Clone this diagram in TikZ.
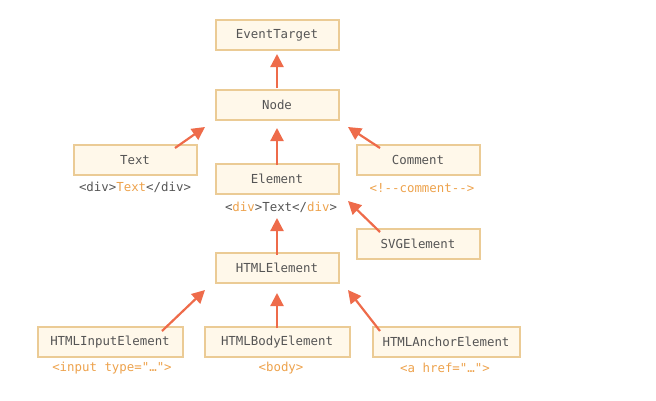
\documentclass[tikz,border=0pt]{standalone}
\usepackage{fontspec}
\setmonofont{DejaVu Sans Mono}
\usetikzlibrary{arrows.meta}
\definecolor{boxfill}{HTML}{FFF8EA}
\definecolor{boxline}{HTML}{EBCB95}
\definecolor{txt}{HTML}{555555}
\definecolor{lbl}{HTML}{EDA24C}
\definecolor{arr}{HTML}{EE6B4A}
\tikzset{
  cls/.style={draw=boxline, fill=boxfill, line width=2pt, minimum width=123pt, minimum height=30pt, inner sep=0pt, font=\ttfamily\fontsize{12.4}{14}\selectfont, text=txt},
  wide/.style={cls, minimum width=145pt},
  tag/.style={font=\ttfamily\fontsize{12.4}{14}\selectfont, text=lbl, inner sep=0pt},
  inh/.style={draw=arr, line width=2.2pt, -{Triangle[length=13pt,width=13pt]}}
}
\begin{document}
\begin{tikzpicture}[x=1pt,y=-1pt]
\useasboundingbox (0,0) rectangle (656,400);
\node[cls] (et) at (277,35) {EventTarget};
\node[cls] (node) at (277,105) {Node};
\node[cls] (text) at (135,160) {Text};
\node[cls] (comment) at (418,160) {Comment};
\node[cls] (element) at (277,179) {Element};
\node[cls] (svg) at (418,244) {SVGElement};
\node[cls] (html) at (277,268) {HTMLElement};
\node[wide] (input) at (110,342) {HTMLInputElement};
\node[wide] (body) at (277,342) {HTMLBodyElement};
\node[wide,minimum width=147pt] (anchor) at (446,342) {HTMLAnchorElement};

\node[tag,text=txt] (textl) at (135,187) {<div>\textcolor{lbl}{Text}</div>};
\node[tag,text=txt] (eleml) at (281,207) {<\textcolor{lbl}{div}>Text</\textcolor{lbl}{div}>};
\node[tag] (comml) at (422,188) {<!-{}-comment-{}->};
\node[tag] (inputl) at (112,368) {<input type="…">};
\node[tag] (bodyl) at (281,368) {<body>};
\node[tag] (anchorl) at (445,368) {<a href="…">};

\coordinate (a1s) at (277,88); \coordinate (a1e) at (277,54);
\draw[inh] (node.north |- a1s) -- (et.south |- a1e);
\draw[inh] ([xshift=40pt,yshift=-4pt]text.north) -- ([xshift=-72pt,yshift=-6pt]node.south);
\draw[inh] ([xshift=-38pt,yshift=-4pt]comment.north) -- ([xshift=71pt,yshift=-6pt]node.south);
\draw[inh] ([yshift=-2pt]element.north) -- ([yshift=-7pt]node.south);
\draw[inh] ([xshift=-38pt,yshift=-4pt]svg.north) -- ([xshift=71pt,yshift=-6pt]element.south);
\draw[inh] ([yshift=-3pt]html.north) -- ([yshift=-23pt]element.south);
\draw[inh] ([xshift=52pt,yshift=-5pt]input.north) -- ([xshift=-72pt,yshift=-6pt]html.south);
\draw[inh] ([yshift=-2pt]body.north) -- ([yshift=-9pt]html.south);
\draw[inh] ([xshift=-66pt,yshift=-5pt]anchor.north) -- ([xshift=71pt,yshift=-6pt]html.south);
\end{tikzpicture}
\end{document}
